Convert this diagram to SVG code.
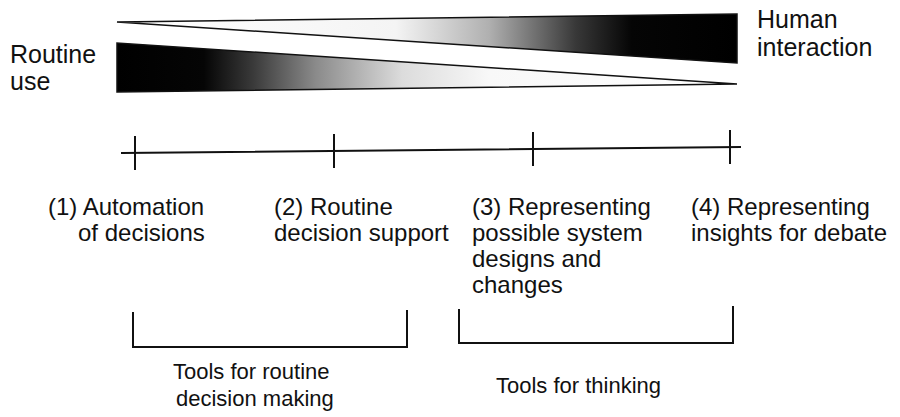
<svg xmlns="http://www.w3.org/2000/svg" width="900" height="417" viewBox="0 0 900 417">
<defs>
<linearGradient id="gUp" gradientUnits="userSpaceOnUse" x1="117" y1="0" x2="737" y2="0">
<stop offset="0" stop-color="#ffffff"/>
<stop offset="0.45" stop-color="#f4f4f4"/>
<stop offset="0.6" stop-color="#b0b0b0"/>
<stop offset="0.74" stop-color="#383838"/>
<stop offset="0.83" stop-color="#050505"/>
<stop offset="1" stop-color="#000000"/>
</linearGradient>
<linearGradient id="gLow" gradientUnits="userSpaceOnUse" x1="117" y1="0" x2="737" y2="0">
<stop offset="0" stop-color="#000000"/>
<stop offset="0.14" stop-color="#050505"/>
<stop offset="0.22" stop-color="#3a3a3a"/>
<stop offset="0.32" stop-color="#8a8a8a"/>
<stop offset="0.46" stop-color="#dcdcdc"/>
<stop offset="0.6" stop-color="#f8f8f8"/>
<stop offset="1" stop-color="#ffffff"/>
</linearGradient>
<style>
text{font-family:"Liberation Sans",Arial,sans-serif;font-size:24px;fill:#111}
.side{font-size:25px}
.tool{font-size:22px}
.ln{fill:none;stroke:#111;stroke-width:2;stroke-linecap:square}
.wedge{stroke:#111;stroke-width:1.5;stroke-linejoin:miter}
</style>
</defs>
<rect width="900" height="417" fill="#ffffff"/>

<g id="wedge-human">
<polygon class="wedge" points="117,22 737,14 737,63" fill="url(#gUp)"/>
</g>
<g id="wedge-routine">
<polygon class="wedge" points="117,43 117,92 737,84" fill="url(#gLow)"/>
</g>

<g id="label-routine-use">
<text class="side" x="10" y="63">Routine</text>
<text class="side" x="10" y="90">use</text>
</g>
<g id="label-human-interaction">
<text class="side" x="757" y="28">Human</text>
<text class="side" x="757" y="56">interaction</text>
</g>

<g id="connectors">
<path class="ln" d="M122,153 L740,147"/>
<path class="ln" d="M135,137 V169 M334,135 V167 M533,133 V165 M730,131 V163"/>
<path class="ln" d="M133,313 V347 H407 V311"/>
<path class="ln" d="M459,310 V343 H733 V307"/>
</g>

<g id="stage1">
<text x="48" y="215">(1)  Automation</text>
<text x="78" y="241">of decisions</text>
</g>
<g id="stage2">
<text x="274" y="215">(2)  Routine</text>
<text x="274" y="241">decision support</text>
</g>
<g id="stage3">
<text x="472" y="215">(3)  Representing</text>
<text x="472" y="241">possible system</text>
<text x="472" y="267">designs and</text>
<text x="472" y="293">changes</text>
</g>
<g id="stage4">
<text x="691" y="215">(4)  Representing</text>
<text x="691" y="241">insights for debate</text>
</g>

<g id="group-routine">
<text class="tool" x="173" y="379">Tools for routine</text>
<text class="tool" x="176" y="406">decision making</text>
</g>
<g id="group-thinking">
<text class="tool" x="496" y="393">Tools for thinking</text>
</g>
</svg>
